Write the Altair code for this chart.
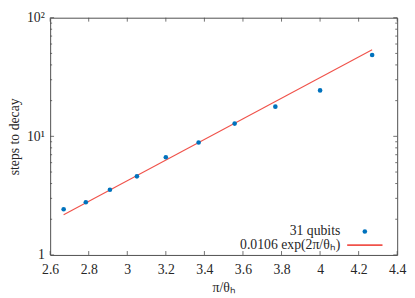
import altair as alt
import pandas as pd

# data
x_vals = [2.67, 2.785, 2.91, 3.05, 3.20, 3.37, 3.557, 3.768, 4.0, 4.27]
y_vals = [2.43, 2.78, 3.55, 4.60, 6.66, 8.88, 12.8, 17.8, 24.4, 48.5]
fit_x = [2.67, 4.27]
fit_y = [2.18, 53.6]
x_ticks = [2.6, 2.8, 3.0, 3.2, 3.4, 3.6, 3.8, 4.0, 4.2, 4.4]
y_major = [1, 10, 100]
y_minor = [2, 3, 4, 5, 6, 7, 8, 9, 20, 30, 40, 50, 60, 70, 80, 90]
legend_labels = ["31 qubits", "0.0106 exp(2π/θₕ)"]

W, H = 354, 242
FONT = "Liberation Serif, Times New Roman, serif"
TXT = "#262626"
FRAME = "#4d4d4d"
BLUE = "#0072bd"
RED = "#f0524a"

pts = pd.DataFrame({"x": x_vals, "y": y_vals})
fit = pd.DataFrame({"x": fit_x, "y": fit_y})
xt = pd.DataFrame({"x": x_ticks})
ymaj = pd.DataFrame({"y": y_major})
ymin = pd.DataFrame({"y": y_minor})

xscale = alt.Scale(domain=[2.6, 4.4], nice=False, zero=False)
yscale = alt.Scale(type="log", domain=[1, 100], nice=False)

X = alt.X("x:Q", scale=xscale, axis=alt.Axis(
    values=x_ticks, title="π/θₕ", ticks=False, tickSize=0, domain=False, grid=False,
    labelPadding=8, labelExpr="datum.value == 3 ? '3' : datum.value == 4 ? '4' : format(datum.value, '.1f')",
    titleY=33, titleBaseline="middle", labelFlush=False))
Y = alt.Y("y:Q", scale=yscale, axis=alt.Axis(
    values=y_major, title="steps to decay", ticks=False, tickSize=0, domain=False, grid=False,
    labelPadding=6, labelExpr="datum.value == 1 ? '1' : datum.value == 10 ? '10¹' : '10²'",
    titleX=-36, titleY=H / 2, titleAngle=270, titleBaseline="middle", titleAlign="center",
    labelFlush=False))

points = alt.Chart(pts).mark_circle(size=22, color=BLUE, opacity=1).encode(x=X, y=Y)
line = alt.Chart(fit).mark_line(color=RED, strokeWidth=1.1).encode(x=X, y=Y)

tb = alt.Chart(xt).mark_rule(color=FRAME, strokeWidth=0.8).encode(x=X, y=alt.value(H), y2=alt.value(H - 4))
tt = alt.Chart(xt).mark_rule(color=FRAME, strokeWidth=0.8).encode(x=X, y=alt.value(0), y2=alt.value(4))
lmaj = alt.Chart(ymaj).mark_rule(color=FRAME, strokeWidth=0.8).encode(y=Y, x=alt.value(0), x2=alt.value(4))
rmaj = alt.Chart(ymaj).mark_rule(color=FRAME, strokeWidth=0.8).encode(y=Y, x=alt.value(W), x2=alt.value(W - 4))
lmin = alt.Chart(ymin).mark_rule(color=FRAME, strokeWidth=0.8).encode(y=Y, x=alt.value(0), x2=alt.value(2))
rmin = alt.Chart(ymin).mark_rule(color=FRAME, strokeWidth=0.8).encode(y=Y, x=alt.value(W), x2=alt.value(W - 2))

leg1 = alt.Chart(pd.DataFrame({"t": [legend_labels[0]]})).mark_text(
    align="right", baseline="middle", font=FONT, fontSize=14, color=TXT
).encode(text="t:N", x=alt.value(296), y=alt.value(H - 24))
leg2 = alt.Chart(pd.DataFrame({"t": [legend_labels[1]]})).mark_text(
    align="right", baseline="middle", font=FONT, fontSize=14, color=TXT
).encode(text="t:N", x=alt.value(296), y=alt.value(H - 10))
legdot = alt.Chart(pd.DataFrame({"t": [legend_labels[0]]})).mark_circle(
    size=22, color=BLUE, opacity=1).encode(x=alt.value(321), y=alt.value(H - 24))
legline = alt.Chart(pd.DataFrame({"t": [legend_labels[1]]})).mark_rule(
    color=RED, strokeWidth=1.6).encode(x=alt.value(303), x2=alt.value(339), y=alt.value(H - 10))

chart = alt.layer(
    line, points, tb, tt, lmaj, rmaj, lmin, rmin, leg1, leg2, legdot, legline
).properties(
    width=W, height=H,
    autosize=alt.AutoSizeParams(type="none"),
    padding={"left": 43, "top": 7, "right": 10, "bottom": 41},
).configure_view(
    stroke=FRAME, strokeWidth=1
).configure_axis(
    labelFont=FONT, titleFont=FONT, labelFontSize=14, titleFontSize=14,
    labelColor=TXT, titleColor=TXT, titleFontWeight="normal"
)

chart.save("out.html", embed_options={"renderer": "svg", "actions": False})
